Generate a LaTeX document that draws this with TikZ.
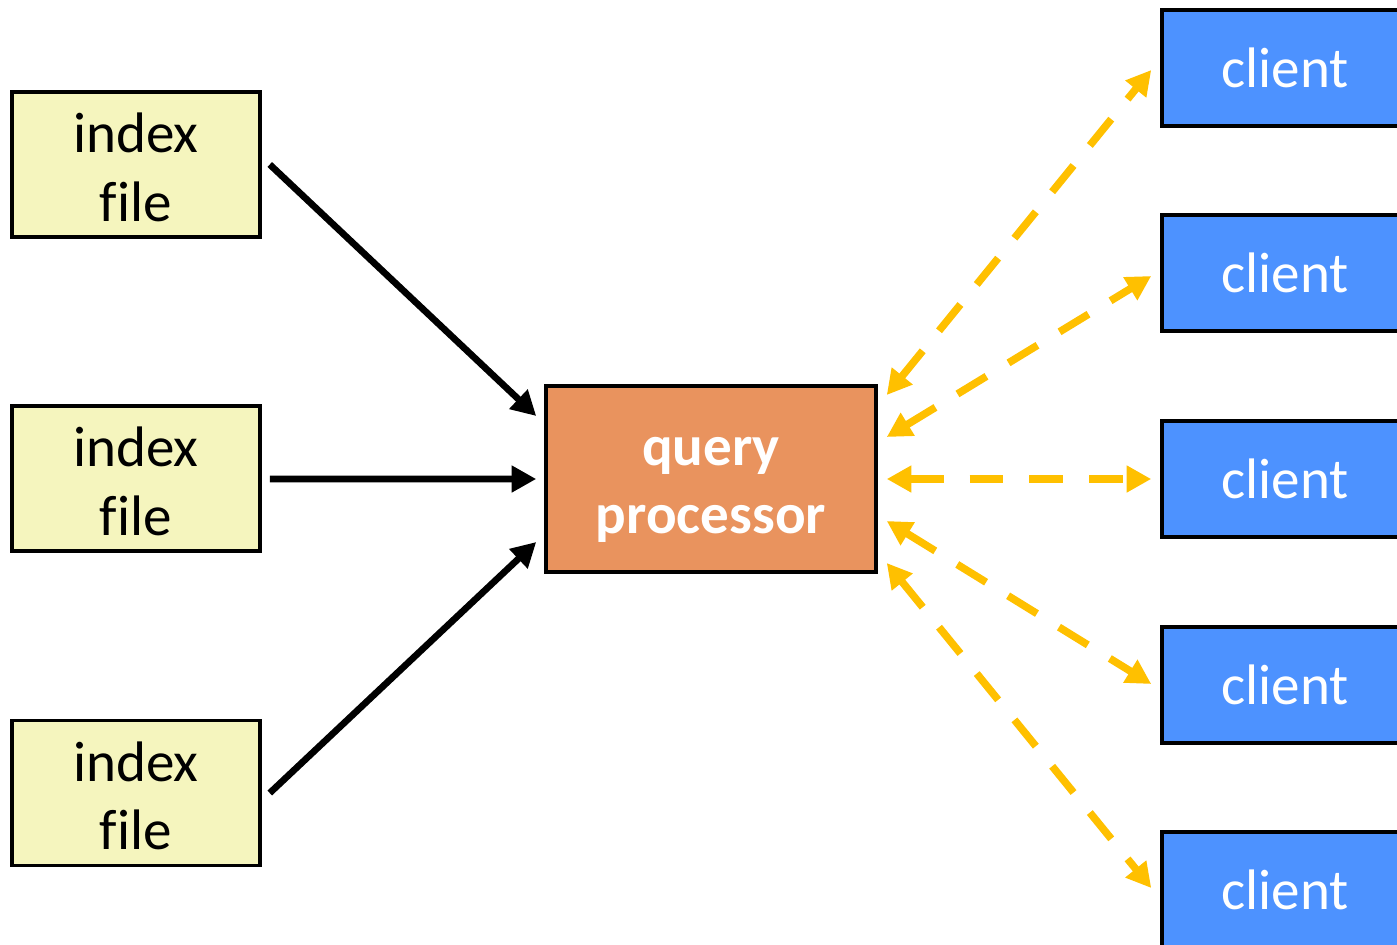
\documentclass[tikz,border=0pt]{standalone}
\usepackage{fontspec}
\setmainfont{Carlito}[Ligatures=NoCommon]
\usetikzlibrary{arrows.meta,calc}
\definecolor{idxfill}{HTML}{F5F5BE}
\definecolor{qpfill}{HTML}{E9935E}
\definecolor{clfill}{HTML}{4D92FF}
\definecolor{yel}{HTML}{FFC000}
\begin{document}
\begin{tikzpicture}[x=0.02cm,y=-0.02cm,
  box/.style={draw=black,line width=2pt,inner sep=0pt,align=center,
    font=\fontsize{32.5}{39}\selectfont},
  idx/.style={box,fill=idxfill,minimum width=248*0.02cm,minimum height=145*0.02cm},
  qpbox/.style={box,fill=qpfill,text=white,font=\fontsize{32.5}{38.5}\selectfont\bfseries,
    minimum width=330*0.02cm,minimum height=186*0.02cm},
  cl/.style={box,fill=clfill,text=white,minimum width=246*0.02cm,minimum height=116*0.02cm},
  blk/.style={draw=black,line width=3.8pt,-{Triangle[length=14pt,width=14.5pt]}},
  yarr/.style={draw=yel,line width=4.3pt,dash pattern=on 19.3pt off 14.7pt,
    {Triangle[length=14pt,width=14.5pt]}-{Triangle[length=14pt,width=14.5pt]}}
]
\useasboundingbox (0,0) rectangle (1397,944);
\clip (0,0) rectangle (1397,944);
\node[idx] (i1) at (136,164.5) {};
\node[idx] (i2) at (136,478.5) {};
\node[idx] (i3) at (136,793) {};
\node[box,draw=none] at ($(i1.center)+(0,3)$) {index\\file};
\node[box,draw=none] at ($(i2.center)+(0,3)$) {index\\file};
\node[box,draw=none] at ($(i3.center)+(0,3)$) {index\\file};
\node[qpbox] (qp) at (711,479) {};
\node[qpbox,draw=none,fill=none] at ($(qp.center)+(0,11)$) {query\\processor};
\node[cl] (c1) at (1285,68) {client};
\node[cl] (c2) at (1285,273) {client};
\node[cl] (c3) at (1285,479) {client};
\node[cl] (c4) at (1285,685) {client};
\node[cl] (c5) at (1285,890) {client};
\draw[blk] ($(i1.east)+(8,0)$) -- ($(qp.west)+(-8,-63)$);
\draw[blk] ($(i2.east)+(8,0.5)$) -- ($(qp.west)+(-8,0)$);
\draw[blk] ($(i3.east)+(8,0)$) -- ($(qp.west)+(-8,63)$);
\draw[yarr] ($(qp.east)+(9,-84)$) -- ($(c1.west)+(-9,2)$);
\draw[yarr] ($(qp.east)+(9,-42)$) -- ($(c2.west)+(-9,3)$);
\draw[yarr] ($(qp.east)+(9,0)$) -- ($(c3.west)+(-9,0)$);
\draw[yarr] ($(qp.east)+(9,42)$) -- ($(c4.west)+(-9,-1)$);
\draw[yarr] ($(qp.east)+(9,84)$) -- ($(c5.west)+(-9,-2)$);
\end{tikzpicture}
\end{document}
